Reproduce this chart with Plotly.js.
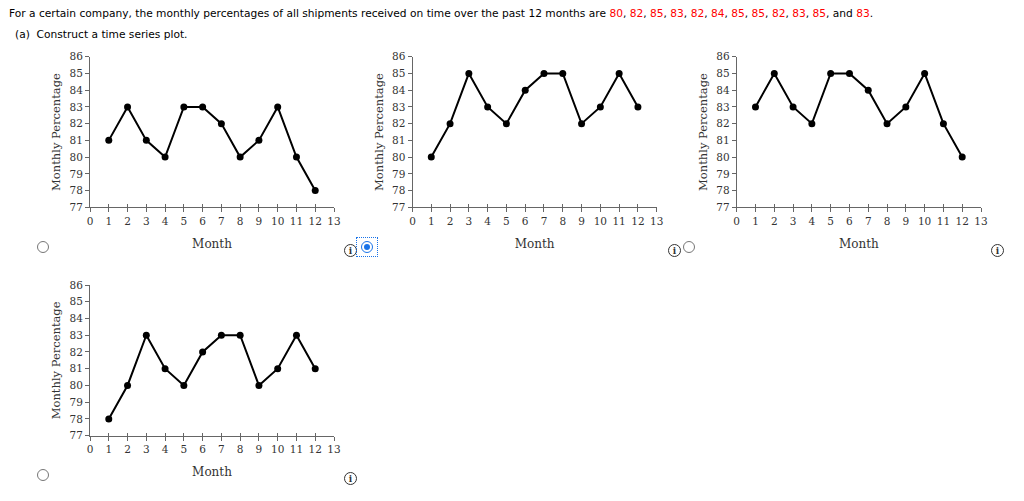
<!DOCTYPE html>
<html>
<head>
<meta charset="utf-8">
<script src="https://cdn.plot.ly/plotly-3.0.1.min.js"></script>
<style>
  body { margin: 0; background: #fff; }
  #wrap { position: relative; width: 1024px; height: 501px; }
  #chart { width: 1024px; height: 501px; }
  .radio { position: absolute; width: 10px; height: 10px; border: 1px solid #767676; border-radius: 50%; background: #fff; }
  .radio.on { border-color: #1a73e8; }
  .radio.on::after { content: ""; position: absolute; left: 2px; top: 2px; width: 6px; height: 6px; border-radius: 50%; background: #1a73e8; }
  .focus { position: absolute; border: 1px dotted #1a73e8; }
  .info { position: absolute; width: 11px; height: 11px; border: 1px solid #333; border-radius: 50%; font: bold 9px "DejaVu Serif", serif; color: #333; text-align: center; line-height: 12px; }
</style>
</head>
<body>
<div id="wrap">
  <div id="chart"></div>
  <div class="radio" style="left:37px;top:241px"></div>
  <div class="info" style="left:344px;top:244px">i</div>
  <div class="focus" style="left:356px;top:237px;width:20px;height:18px"></div>
  <div class="radio on" style="left:361px;top:241px"></div>
  <div class="info" style="left:668px;top:244px">i</div>
  <div class="radio" style="left:683px;top:241px"></div>
  <div class="info" style="left:991px;top:244px">i</div>
  <div class="radio" style="left:37px;top:469px"></div>
  <div class="info" style="left:344px;top:472px">i</div>
</div>
<script>
const months = [1, 2, 3, 4, 5, 6, 7, 8, 9, 10, 11, 12];
const optionA = [81, 83, 81, 80, 83, 83, 82, 80, 81, 83, 80, 78];
const optionB = [80, 82, 85, 83, 82, 84, 85, 85, 82, 83, 85, 83];
const optionC = [83, 85, 83, 82, 85, 85, 84, 82, 83, 85, 82, 80];
const optionD = [78, 80, 83, 81, 80, 82, 83, 83, 80, 81, 83, 81];
const shipments = optionB;
const xTicks = [0, 1, 2, 3, 4, 5, 6, 7, 8, 9, 10, 11, 12, 13];
const yTicks = [77, 78, 79, 80, 81, 82, 83, 84, 85, 86];

const W = 1024, H = 501;
const serif = "DejaVu Serif, serif";

// pixel boxes of the four small plots: [left, right, top, bottom]
const boxes = [
  [90, 334, 56.7, 207.3],
  [412.5, 656.7, 56.7, 207.3],
  [736.7, 981, 56.7, 207.3],
  [90, 334, 285, 435.7]
];
const series = [optionA, optionB, optionC, optionD];

let data = [];
let layout = {
  width: W, height: H,
  margin: {l: 0, r: 0, t: 0, b: 0},
  paper_bgcolor: "#fff", plot_bgcolor: "#fff",
  showlegend: false,
  annotations: []
};

series.forEach(function(vals, i){
  const n = i + 1;
  const sx = n === 1 ? "" : n;
  const b = boxes[i];
  data.push({
    x: months, y: vals,
    xaxis: "x" + sx, yaxis: "y" + sx,
    type: "scatter", mode: "lines+markers",
    line: {color: "#000", width: 2},
    marker: {color: "#000", size: 7},
    hoverinfo: "x+y"
  });
  // empty trace on the overlay axis that draws the upper half of x ticks
  data.push({x: [], y: [], xaxis: "x" + (n + 4), yaxis: "y" + sx, type: "scatter"});

  const xdom = [b[0] / W, b[1] / W];
  layout["xaxis" + sx] = {
    domain: xdom, anchor: "y" + sx, range: [0, 13],
    tickvals: xTicks, ticks: "outside", ticklen: 4, tickcolor: "#666",
    showline: true, linecolor: "#666", linewidth: 1,
    showgrid: false, zeroline: false,
    tickfont: {family: serif, size: 10.5, color: "#333"},
    title: {text: "Month", standoff: 13, font: {family: serif, size: 12, color: "#333"}}
  };
  layout["xaxis" + (n + 4)] = {
    domain: xdom, anchor: "y" + sx, overlaying: "x" + sx, range: [0, 13],
    tickvals: xTicks, ticks: "inside", ticklen: 3, tickcolor: "#666",
    showticklabels: false, showgrid: false, zeroline: false
  };
  layout["yaxis" + sx] = {
    domain: [1 - b[3] / H, 1 - b[2] / H], anchor: "x" + sx, range: [77, 86],
    tickvals: yTicks, ticks: "outside", ticklen: 4, tickcolor: "#666",
    showline: true, linecolor: "#666", linewidth: 1,
    showgrid: false, zeroline: false,
    tickfont: {family: serif, size: 10.5, color: "#333"},
    title: {text: "Monthly Percentage", standoff: 6, font: {family: serif, size: 11.5, color: "#333"}}
  };
});

const red = shipments.map(v => '<span style="color:#ff0000">' + v + '</span>');
const listText = red.slice(0, -1).join(", ") + ", and " + red[red.length - 1] + ".";
layout.annotations.push({
  xref: "paper", yref: "paper", x: 7 / W, y: 1 - 13 / H, xanchor: "left", yanchor: "middle",
  showarrow: false, align: "left",
  text: "For a certain company, the monthly percentages of all shipments received on time over the past 12 months are " + listText,
  font: {family: "DejaVu Sans, sans-serif", size: 10.65, color: "#000"}
});
layout.annotations.push({
  xref: "paper", yref: "paper", x: 13 / W, y: 1 - 35 / H, xanchor: "left", yanchor: "middle",
  showarrow: false, align: "left",
  text: "(a)  Construct a time series plot.",
  font: {family: "DejaVu Sans, sans-serif", size: 10.65, color: "#000"}
});

Plotly.newPlot("chart", data, layout, {displayModeBar: false, staticPlot: true});
</script>
</body>
</html>
